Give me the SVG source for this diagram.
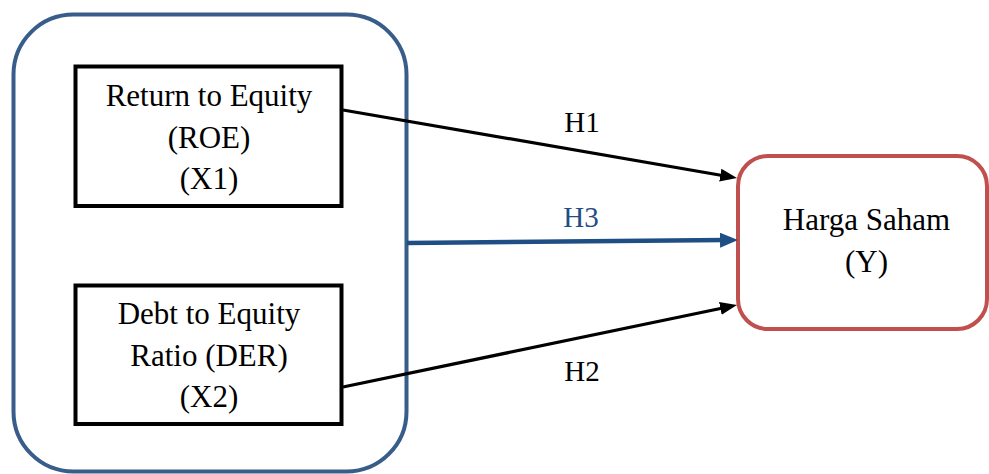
<svg xmlns="http://www.w3.org/2000/svg" width="989" height="474" viewBox="0 0 989 474">
<style>
text{font-family:"Liberation Serif","Times New Roman",serif;font-size:31px;fill:#000;text-anchor:middle}
.box{fill:#fff;stroke:#000;stroke-width:4}
.conn{stroke:#000;stroke-width:3.2;fill:none}
</style>
<defs>
<marker id="ah" markerUnits="userSpaceOnUse" markerWidth="18" markerHeight="14" refX="5" refY="6.5" orient="auto">
<path d="M0,0 L17,6.5 L0,13 z" fill="#000"/>
</marker>
<marker id="ahb" markerUnits="userSpaceOnUse" markerWidth="19" markerHeight="16" refX="5" refY="7.5" orient="auto">
<path d="M0,0 L18,7.5 L0,15 z" fill="#1F4E85"/>
</marker>
</defs>
<g id="group-x">
<rect x="13.5" y="14.5" width="393" height="457" rx="60" ry="60" fill="#fff" stroke="#385D8A" stroke-width="4"/>
</g>
<g id="node-roe">
<rect class="box" x="75.5" y="66.5" width="266" height="139.5"/>
<text x="209" y="106">Return to Equity</text>
<text x="209" y="148">(ROE)</text>
<text x="209" y="189">(X1)</text>
</g>
<g id="node-der">
<rect class="box" x="75.5" y="285.5" width="266" height="138.5"/>
<text x="209" y="324">Debt to Equity</text>
<text x="209" y="366">Ratio (DER)</text>
<text x="209" y="407">(X2)</text>
</g>
<g id="node-y">
<rect x="738" y="156" width="249" height="173" rx="30" ry="30" fill="#fff" stroke="#C0504D" stroke-width="4"/>
<text x="866.5" y="230">Harga Saham</text>
<text x="866.5" y="272">(Y)</text>
</g>
<g id="connectors">
<line class="conn" x1="343" y1="110" x2="725.2" y2="176" marker-end="url(#ah)"/>
<line class="conn" x1="343" y1="387" x2="725.25" y2="307.45" marker-end="url(#ah)"/>
<line x1="407" y1="243" x2="725" y2="240.1" stroke="#1F4E85" stroke-width="4.5" marker-end="url(#ahb)"/>
<text x="582" y="132" style="font-size:29px">H1</text>
<text x="581" y="227" style="font-size:29px;fill:#1F4E85">H3</text>
<text x="582" y="381" style="font-size:29px">H2</text>
</g>
</svg>
